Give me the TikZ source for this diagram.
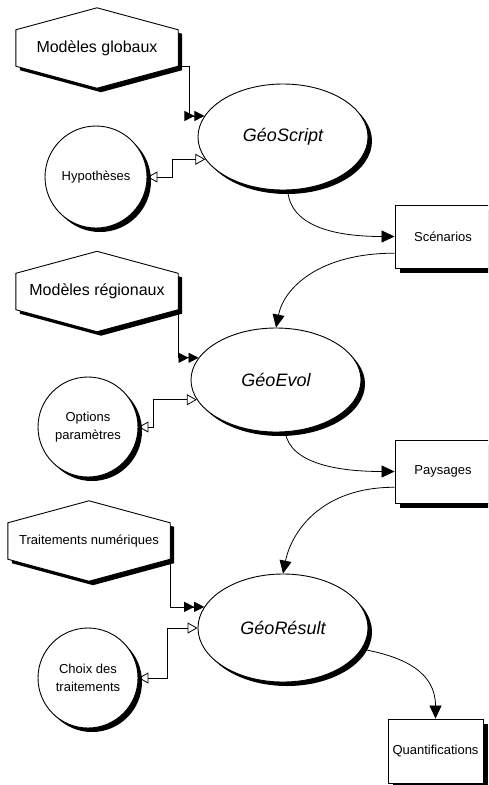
\documentclass[tikz,border=0pt]{standalone}
\usepackage{fontspec}
\setmainfont{Liberation Sans}
\usetikzlibrary{arrows.meta,shapes.geometric,shadows,backgrounds}
\newcommand\hexpath[3]{([shift={(#2,#3)}]#1.north west) -- ([shift={(#2,#3-22)}]#1.north) -- ([shift={(#2,#3)}]#1.north east) -- ([shift={(#2,#3)}]#1.south east) -- ([shift={(#2,#3+22)}]#1.south) -- ([shift={(#2,#3)}]#1.south west) -- cycle}
\begin{document}
\begin{tikzpicture}[x=1pt,y=-1pt,
  shapeline/.style={draw=black, line width=0.9pt, fill=white},
  shad/.style={drop shadow={shadow xshift=4pt,shadow yshift=-4pt,opacity=1,fill=black}},
  proc/.style={ellipse, shapeline, shad, minimum width=170pt, minimum height=106pt, inner sep=0pt, font=\fontsize{18}{21}\selectfont\itshape},
  circ/.style={circle, shapeline, shad, minimum size=102pt, inner sep=0pt, align=center, font=\fontsize{13}{17.5}\selectfont},
  boxn/.style={rectangle, shapeline, drop shadow={shadow xshift=5pt,shadow yshift=-5pt,opacity=1,fill=black}, minimum width=96pt, minimum height=63pt, inner sep=0pt, font=\fontsize{13}{16}\selectfont},
  hexcore/.style={rectangle, minimum width=162pt, minimum height=36pt, inner sep=0pt},
  hexbig/.style={hexcore, font=\fontsize{16}{19}\selectfont},
  hexsmall/.style={hexcore, font=\fontsize{13}{16}\selectfont},
  conn/.style={draw=black, line width=0.8pt},
  arr/.style={conn, -{Triangle[length=13pt,width=12pt]}},
  dbl/.style={conn, -{Triangle[length=10pt,width=10pt] Triangle[length=10pt,width=10pt]}},
  opn/.style={conn, {Triangle[open,length=10pt,width=11pt]}-{Triangle[open,length=10pt,width=11pt]}}
]
\useasboundingbox (0,0) rectangle (488,785);
\clip (0,0) rectangle (488,785);

% hexagons (text nodes)
\node[hexbig] (h1) at (97,48) {Modèles globaux};
\node[hexbig] (h2) at (97,291.5) {Modèles régionaux};
\node[hexsmall] (h3) at (89,541) {Traitements numériques};
\begin{scope}[on background layer]
  \foreach \h in {h1,h2,h3}{
    \fill[black] \hexpath{\h}{4}{4};
    \draw[shapeline] \hexpath{\h}{0}{0};
  }
\end{scope}

% processes
\node[proc] (gs) at (283,137) {GéoScript};
\node[proc, minimum height=104pt] (ge) at (276,380) {GéoEvol};
\node[proc, minimum height=108pt] (gr) at (283,628) {GéoRésult};

% circles
\node[circ] (hyp) at (96,177) {Hypothèses};
\node[circ, minimum size=100pt] (op) at (88,427) {Options\\paramètres};
\node[circ, minimum size=100pt] (ch) at (88,678) {Choix des\\traitements};

% boxes
\node[boxn] (sc) at (443,236.5) {Scénarios};
\node[boxn] (pa) at (443,471.5) {Paysages};
\node[boxn, minimum width=95pt, minimum height=64pt] (qu) at (435.5,751) {Quantifications};

% connectors
\draw[dbl] (h1.south east) -- ++(11,0) |- (gs.165);
\draw[opn] (hyp.east) -- ++(25,0) |- (gs.196);
\draw[arr] (gs.275) .. controls +(3,38) and +(-55,0) .. (sc.west);
\draw[arr] (sc.199) .. controls +(-75,0) and +(8,-40) .. (ge.north);
\draw[dbl] (h2.south east) |- (ge.164);
\draw[opn] (op.east) -- ++(15,0) |- (ge.194);
\draw[arr] (ge.280) .. controls +(5,32) and +(-55,0) .. (pa.west);
\draw[arr] (pa.198) .. controls +(-75,0) and +(8,-40) .. (gr.north);
\draw[dbl] (h3.south east) |- (gr.165);
\draw[opn] (ch.east) -- ++(29,0) |- (gr.west);
\draw[arr] (gr.-15) .. controls +(45,8) and +(0,-45) .. (qu.north);
\end{tikzpicture}
\end{document}
